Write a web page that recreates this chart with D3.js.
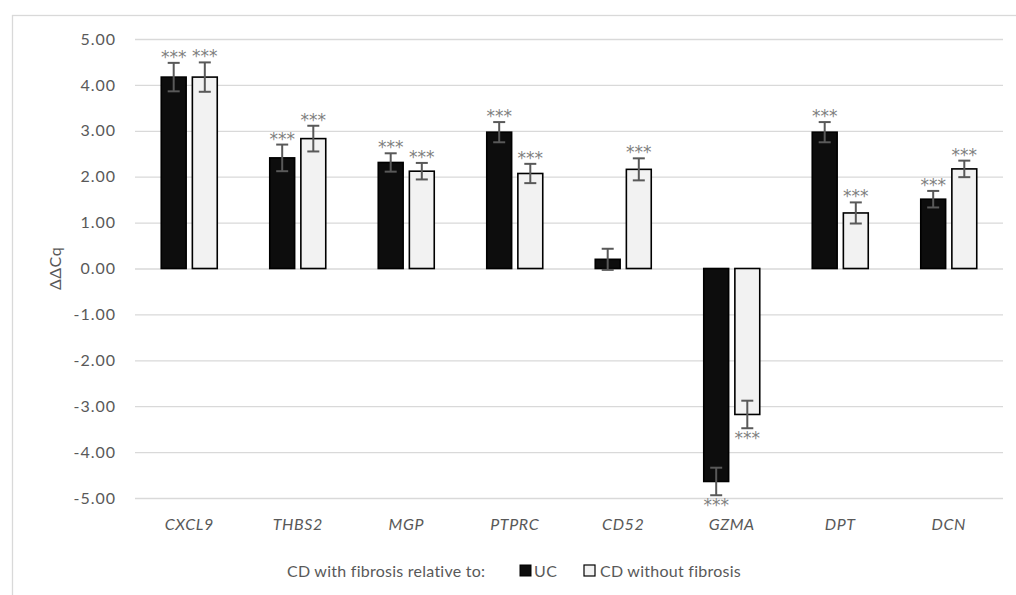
<!DOCTYPE html>
<html>
<head>
<meta charset="utf-8">
<script src="https://cdn.jsdelivr.net/npm/d3@7"></script>
<style>
  body { margin: 0; background: #fff; }
  svg text { font-family: Lato, "Open Sans", sans-serif; }
</style>
</head>
<body>
<div id="chart"></div>
<script>
const categories = ['CXCL9', 'THBS2', 'MGP', 'PTPRC', 'CD52', 'GZMA', 'DPT', 'DCN'];
const seriesNames = ['UC', 'CD without fibrosis'];
const ucValues = [4.17, 2.41, 2.31, 2.97, 0.20, -4.64, 2.97, 1.51];
const ucErrors = [0.31, 0.29, 0.20, 0.22, 0.23, 0.30, 0.22, 0.18];
const ucStars = ['***', '***', '***', '***', '', '***', '***', '***'];
const cdValues = [4.17, 2.83, 2.12, 2.07, 2.16, -3.18, 1.21, 2.17];
const cdErrors = [0.32, 0.28, 0.18, 0.21, 0.24, 0.30, 0.23, 0.18];
const cdStars = ['***', '***', '***', '***', '***', '***', '***', '***'];
const yTicks = [5, 4, 3, 2, 1, 0, -1, -2, -3, -4, -5];

const width = 1016, height = 595;
const plotLeft = 135, plotRight = 1003, plotTop = 39, plotBottom = 498;

const svg = d3.select('#chart')
  .append('svg')
  .attr('width', width)
  .attr('height', height);

// outer chart frame
svg.append('rect')
  .attr('x', 12.5)
  .attr('y', 15.5)
  .attr('width', 1020)
  .attr('height', 620)
  .attr('fill', 'none')
  .attr('stroke', '#d9d9d9')
  .attr('stroke-width', 1.3);

const x0 = d3.scaleBand()
  .domain(categories)
  .range([plotLeft, plotRight]);

const groupW = 56;
const x1 = d3.scaleBand()
  .domain(seriesNames)
  .range([0, groupW])
  .paddingInner(0.2);

const y = d3.scaleLinear()
  .domain([-5, 5])
  .range([plotBottom, plotTop]);

// y axis + gridlines
const yAxis = svg.append('g')
  .attr('transform', `translate(${plotLeft}, 0)`)
  .call(d3.axisLeft(y)
    .tickValues(yTicks)
    .tickSize(-(plotRight - plotLeft))
    .tickPadding(19)
    .tickFormat((d) => d.toFixed(2)));
yAxis.select('.domain').remove();
yAxis.selectAll('line')
  .attr('stroke', '#d9d9d9')
  .attr('stroke-width', 1.3);
yAxis.selectAll('text')
  .attr('fill', '#595959')
  .style('font-size', '16px')
  .style('letter-spacing', '1px');

// category labels
const xAxis = svg.append('g')
  .attr('transform', `translate(0, ${plotBottom})`)
  .call(d3.axisBottom(x0).tickSize(0).tickPadding(21));
xAxis.select('.domain').remove();
xAxis.selectAll('text')
  .attr('fill', '#595959')
  .style('font-size', '16px')
  .style('letter-spacing', '0.6px')
  .style('font-style', 'italic');

// y title
svg.append('text')
  .attr('transform', `translate(61, ${(plotTop + plotBottom) / 2}) rotate(-90)`)
  .attr('text-anchor', 'middle')
  .attr('fill', '#595959')
  .style('font-size', '16px')
  .style('letter-spacing', '0.5px')
  .text('ΔΔCq');

const rows = categories.map((c, i) => [
  {cat: c, s: 'UC', v: ucValues[i], e: ucErrors[i], star: ucStars[i]},
  {cat: c, s: 'CD without fibrosis', v: cdValues[i], e: cdErrors[i], star: cdStars[i]}
]).flat();

const off = (x0.bandwidth() - groupW) / 2;
const bx = (d) => x0(d.cat) + off + x1(d.s);
const cx = (d) => bx(d) + x1.bandwidth() / 2;

const bars = svg.append('g')
  .selectAll('g')
  .data(rows)
  .enter()
  .append('g');

bars.append('rect')
  .attr('x', bx)
  .attr('y', (d) => y(Math.max(0, d.v)))
  .attr('width', x1.bandwidth())
  .attr('height', (d) => Math.abs(y(d.v) - y(0)))
  .attr('fill', (d) => d.s === 'UC' ? '#0d0d0d' : '#f2f2f2')
  .attr('stroke', '#000')
  .attr('stroke-width', 1.6);

// error bars
const cap = 6;
bars.append('line')
  .attr('x1', cx).attr('x2', cx)
  .attr('y1', (d) => y(d.v + d.e))
  .attr('y2', (d) => y(d.v - d.e));
bars.append('line')
  .attr('x1', (d) => cx(d) - cap).attr('x2', (d) => cx(d) + cap)
  .attr('y1', (d) => y(d.v + d.e)).attr('y2', (d) => y(d.v + d.e));
bars.append('line')
  .attr('x1', (d) => cx(d) - cap).attr('x2', (d) => cx(d) + cap)
  .attr('y1', (d) => y(d.v - d.e)).attr('y2', (d) => y(d.v - d.e));
bars.selectAll('line')
  .attr('stroke', '#595959')
  .attr('stroke-width', 2);

// significance stars
bars.append('text')
  .attr('x', cx)
  .attr('y', (d) => d.v >= 0 ? y(d.v + d.e) : y(d.v - d.e) + 16)
  .attr('text-anchor', 'middle')
  .attr('fill', '#808080')
  .style('font-family', '"DejaVu Sans", sans-serif')
  .style('font-size', '17px')
  .text((d) => d.star);

// legend
const legend = svg.append('g').attr('fill', '#595959').style('font-size', '16px');
legend.append('text').attr('x', 287).attr('y', 577).style('letter-spacing', '0.25px')
  .text('CD with fibrosis relative to:');
legend.append('rect').attr('x', 520).attr('y', 565).attr('width', 11).attr('height', 11)
  .attr('fill', '#0d0d0d').attr('stroke', '#000');
legend.append('text').attr('x', 534).attr('y', 577).style('letter-spacing', '0.5px')
  .text(seriesNames[0]);
legend.append('rect').attr('x', 584).attr('y', 565).attr('width', 11).attr('height', 11)
  .attr('fill', '#f2f2f2').attr('stroke', '#000').attr('stroke-width', 1.2);
legend.append('text').attr('x', 600).attr('y', 577).style('letter-spacing', '0.25px')
  .text(seriesNames[1]);
</script>
</body>
</html>
